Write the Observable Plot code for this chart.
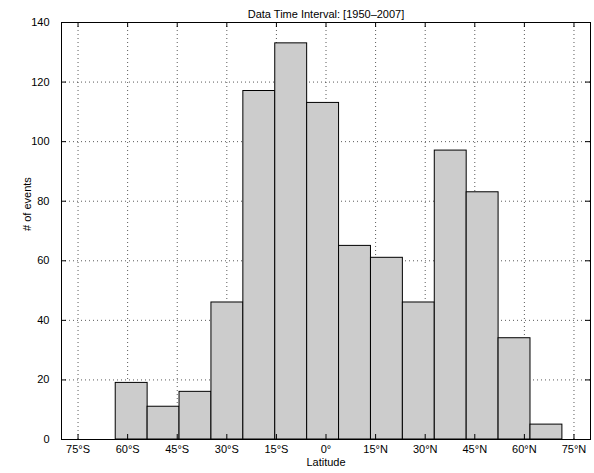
<!DOCTYPE html>
<html>
<head>
<meta charset="utf-8">
<script src="https://cdn.jsdelivr.net/npm/d3@7"></script>
<script src="https://cdn.jsdelivr.net/npm/@observablehq/plot@0.6"></script>
<style>
  html, body { margin: 0; padding: 0; background: #fff; }
</style>
</head>
<body>
<div id="chart"></div>
<script>
// Bin edges (latitude, degrees) and counts
const binStart = [-63.6, -53.95, -44.3, -34.65, -25.0, -15.35, -5.7, 3.95, 13.6, 23.25, 32.9, 42.55, 52.2, 61.85];
const binEnd   = [-53.95, -44.3, -34.65, -25.0, -15.35, -5.7, 3.95, 13.6, 23.25, 32.9, 42.55, 52.2, 61.85, 71.5];
const counts   = [19, 11, 16, 46, 117, 133, 113, 65, 61, 46, 97, 83, 34, 5];

const xTicks = [-75, -60, -45, -30, -15, 0, 15, 30, 45, 60, 75];
const xTickLabels = ["75°S", "60°S", "45°S", "30°S", "15°S", "0°", "15°N", "30°N", "45°N", "60°N", "75°N"];
const yTicks = [0, 20, 40, 60, 80, 100, 120, 140];

const titleText = "Data Time Interval: [1950–2007]";
const xLabel = "Latitude";
const yLabel = "# of events";

const bins = counts.map((c, i) => ({x1: binStart[i], x2: binEnd[i], count: c}));

const W = 594, H = 473;
const mL = 61, mR = 4, mT = 22, mB = 34;
const plotW = W - mL - mR, plotH = H - mT - mB;
const tickLen = 5;
const gridStyle = {stroke: "#000", strokeOpacity: 0.65, strokeWidth: 1, strokeDasharray: "1,3"};

const chart = Plot.plot({
  width: W,
  height: H,
  marginLeft: mL,
  marginRight: mR,
  marginTop: mT,
  marginBottom: mB,
  style: {fontFamily: "'Liberation Sans', Arial, Helvetica, sans-serif", fontSize: "11px", color: "#000", background: "#fff"},
  x: {domain: [-80, 80], ticks: xTicks, tickFormat: d => xTickLabels[xTicks.indexOf(d)], tickSize: 0, tickPadding: 6, label: null},
  y: {domain: [0, 140], ticks: yTicks, tickSize: 0, tickPadding: 12, label: null},
  marks: [
    Plot.ruleX(xTicks, {x: d => d, ...gridStyle}),
    Plot.ruleY(yTicks, {y: d => d, ...gridStyle}),
    Plot.rectY(bins, {x1: "x1", x2: "x2", y1: 0, y2: "count", fill: "#cccccc", stroke: "#000", strokeWidth: 1}),
    // inward tick marks (MATLAB style) on all four sides
    Plot.ruleX(xTicks, {x: d => d, insetTop: plotH - tickLen, stroke: "#000"}),
    Plot.ruleX(xTicks, {x: d => d, insetBottom: plotH - tickLen, stroke: "#000"}),
    Plot.ruleY(yTicks, {y: d => d, insetRight: plotW - tickLen, stroke: "#000"}),
    Plot.ruleY(yTicks, {y: d => d, insetLeft: plotW - tickLen, stroke: "#000"}),
    Plot.frame({stroke: "#000", strokeWidth: 1}),
    Plot.text([titleText], {frameAnchor: "top", dy: -12, fontSize: 11, fill: "#000"}),
    Plot.text([xLabel], {frameAnchor: "bottom", dy: 26, fontSize: 11, fill: "#000"}),
    Plot.text([yLabel], {frameAnchor: "left", dx: -34, rotate: -90, fontSize: 11, fill: "#000"})
  ]
});

document.getElementById("chart").appendChild(chart);
</script>
</body>
</html>
